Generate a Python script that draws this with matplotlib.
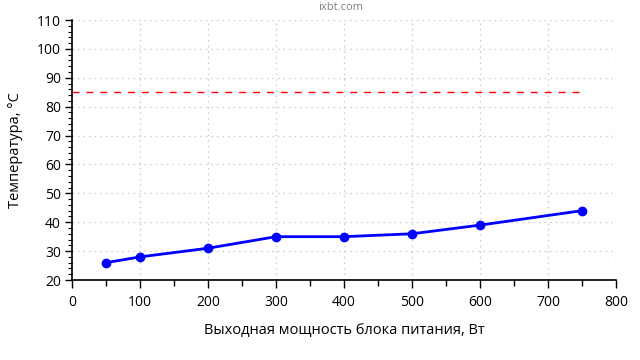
import numpy as np
import matplotlib.pyplot as plt
from matplotlib.ticker import MultipleLocator

plt.rcParams['font.family'] = ['Open Sans', 'DejaVu Sans']

power = [50, 100, 200, 300, 400, 500, 600, 750]  # output power, W
temp = [26, 28, 31, 35, 35, 36, 39, 44]  # temperature, C
limit_x = [0, 750]
limit_y = [85, 85]

fig = plt.figure(figsize=(6.4, 3.6), dpi=100)
ax = fig.add_axes([0.1125, 0.2222, 0.85, 0.7222])

ax.plot(limit_x, limit_y, color='red', linestyle=(0, (5, 5)), linewidth=1)
ax.plot(power, temp, color='blue', linewidth=2, marker='o', markersize=6)

ax.set_xlim(0, 800)
ax.set_ylim(20, 110)
ax.xaxis.set_major_locator(MultipleLocator(100))
ax.xaxis.set_minor_locator(MultipleLocator(50))
ax.yaxis.set_major_locator(MultipleLocator(10))
ax.yaxis.set_minor_locator(MultipleLocator(2))

ax.grid(True, which='major', color='#c8c8c8', linestyle=(0, (1, 3)), linewidth=1)
ax.set_axisbelow(True)
for s in ['top', 'right']:
    ax.spines[s].set_visible(False)
ax.spines['left'].set_linewidth(1.2)
ax.spines['bottom'].set_linewidth(1.2)

ax.tick_params(axis='x', which='major', length=6, width=1, pad=5, labelsize=10)
ax.tick_params(axis='x', which='minor', length=4, width=1)
ax.tick_params(axis='y', which='major', length=5, width=1, pad=3, labelsize=10)
ax.tick_params(axis='y', which='minor', length=3, width=0.8)

ax.set_xlabel('Выходная мощность блока питания, Вт', fontsize=10.5, labelpad=9)
ax.set_ylabel('Температура, °C', fontsize=10.5, labelpad=10)

fig.text(0.533, 0.978, 'ixbt.com', ha='center', va='center', fontsize=8, color='#808080')

fig.savefig('out.png', dpi=100)
